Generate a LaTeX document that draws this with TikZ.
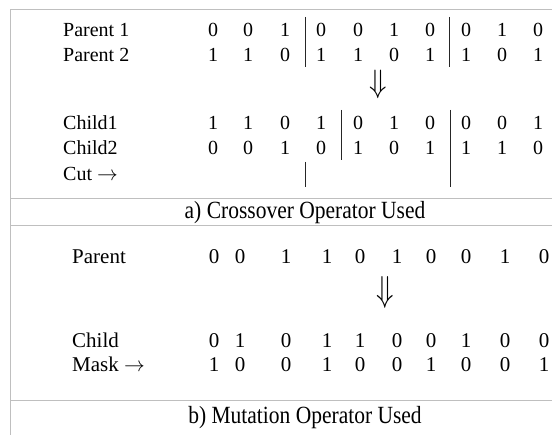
\documentclass[tikz,border=0pt]{standalone}
\usepackage{fontspec}
\setmainfont{Liberation Serif}
\usepackage{graphicx}
\begin{document}
\begin{tikzpicture}[x=1pt,y=-1pt,
  frameline/.style={draw=black!25, line width=0.9pt},
  cutbar/.style={draw=black!85, line width=1pt},
  lbl/.style={anchor=base west, inner sep=0pt, font=\fontsize{20}{24}\selectfont},
  lblb/.style={anchor=base west, inner sep=0pt, font=\fontsize{21}{25}\selectfont},
  dig/.style={anchor=base, inner sep=0pt, font=\fontsize{20}{24}\selectfont},
  digb/.style={anchor=base, inner sep=0pt, font=\fontsize{21}{25}\selectfont},
  captext/.style={anchor=base, inner sep=0pt, font=\fontsize{21.5}{26}\selectfont},
  darrow/.style={inner sep=0pt, font=\fontsize{28}{30}\selectfont}]
\useasboundingbox (0,0) rectangle (552,435);
\fill[white] (0,0) rectangle (552,435);
% frame
\draw[frameline] (10,435) -- (10,9) -- (552,9);
\draw[frameline] (10,198) -- (552,198);
\draw[frameline] (10,225) -- (552,225);
\draw[frameline] (10,400) -- (552,400);
% section a labels
\node[lbl] (lp1) at (63,37) {Parent 1};
\node[lbl] (lp2) at (63,62) {Parent 2};
\node[lbl] (lc1) at (63,130) {Child1};
\node[lbl] (lc2) at (63,155) {Child2};
\node[lbl] (lcut) at (63,181) {Cut $\rightarrow$};
% section a digits
\foreach \x/\v [count=\i] in {213/0,248/0,285/1,321/0,358/0,394/1,430/0,466/0,502/1,538/0}
  \node[dig] (pa\i) at (\x,37) {\v};
\foreach \x/\v [count=\i] in {213/1,248/1,285/0,321/1,358/1,394/0,430/1,466/1,502/0,538/1}
  \node[dig] (pb\i) at (\x,62) {\v};
\foreach \x/\v [count=\i] in {213/1,248/1,285/0,321/1,358/0,394/1,430/0,466/0,502/0,538/1}
  \node[dig] (ca\i) at (\x,130) {\v};
\foreach \x/\v [count=\i] in {213/0,248/0,285/1,321/0,358/1,394/0,430/1,466/1,502/1,538/0}
  \node[dig] (cb\i) at (\x,155) {\v};
% section a bars
\draw[cutbar] (305,17) -- (305,67);
\draw[cutbar] (449,17) -- (449,67);
\draw[cutbar] (341,110) -- (341,160);
\draw[cutbar] (450,110) -- (450,187);
\draw[cutbar] (305,162) -- (305,187);
% section a arrow
\node[darrow] (arra) at (378,84) {\scalebox{1.15}[1.3]{$\Downarrow$}};
\node[captext] (capa) at (305,219) {\scalebox{1}[1.15]{a) Crossover Operator Used}};
% section b
\node[lblb] (lpb) at (72,264) {Parent};
\node[lblb] (lcb) at (72,348) {Child};
\node[lblb] (lmb) at (72,372) {Mask $\rightarrow$};
\foreach \x/\v [count=\i] in {214/0,240/0,286/1,327/1,360/0,397/1,431/0,466/0,505/1,544/0}
  \node[digb] (bp\i) at (\x,264) {\v};
\foreach \x/\v [count=\i] in {214/0,240/1,286/0,327/1,360/1,397/0,431/0,466/1,505/0,544/0}
  \node[digb] (bc\i) at (\x,348) {\v};
\foreach \x/\v [count=\i] in {214/1,240/0,286/0,327/1,360/0,397/0,431/1,466/0,505/0,544/1}
  \node[digb] (bm\i) at (\x,372) {\v};
\node[darrow] (arrb) at (385,292) {\scalebox{1.15}[1.45]{$\Downarrow$}};
\node[captext] (capb) at (305,424) {\scalebox{1}[1.15]{b) Mutation Operator Used}};
\end{tikzpicture}
\end{document}
